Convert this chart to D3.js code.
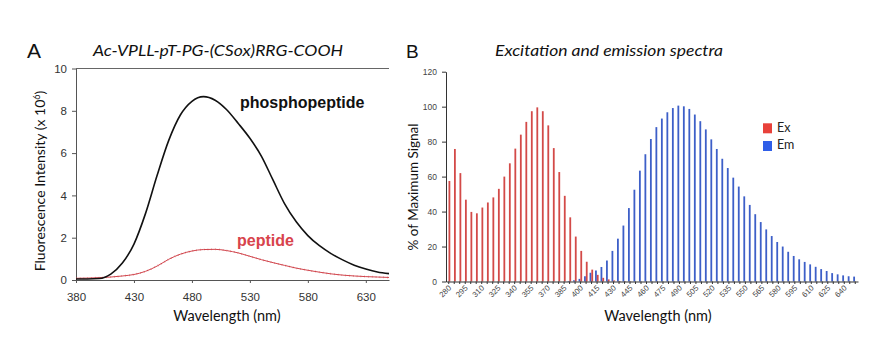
<!DOCTYPE html>
<html><head><meta charset="utf-8">
<script src="https://cdn.jsdelivr.net/npm/d3@7"></script>
<style>
html,body{margin:0;padding:0;background:#fff;}
svg{display:block;}
</style></head>
<body>
<svg id="chart" width="890" height="338"></svg>
<script>
// ---------- Panel A data ----------
const wavelengthsA = [380,390,400,410,420,430,440,450,460,470,480,490,500,510,520,530,540,550,560,570,580,590,600,610,620,630,640,650];
const phosphopeptide = [0.05,0.05,0.07,0.28,0.8,1.7,3.15,4.95,6.6,7.8,8.45,8.67,8.5,8.05,7.4,6.7,5.85,4.72,3.6,2.75,2.1,1.62,1.25,0.95,0.7,0.52,0.38,0.3];
const peptide = [0.08,0.09,0.11,0.14,0.19,0.26,0.41,0.66,0.98,1.22,1.37,1.44,1.45,1.39,1.28,1.12,0.96,0.82,0.69,0.56,0.46,0.37,0.29,0.23,0.19,0.16,0.14,0.12];
const xTicksA = [380,430,480,530,580,630];
const yTicksA = [0,2,4,6,8,10];

// ---------- Panel B data ----------
const categoriesB = [280,285,290,295,300,305,310,315,320,325,330,335,340,345,350,355,360,365,370,375,380,385,390,395,400,405,410,415,420,425,430,435,440,445,450,455,460,465,470,475,480,485,490,495,500,505,510,515,520,525,530,535,540,545,550,555,560,565,570,575,580,585,590,595,600,605,610,615,620,625,630,635,640,645,650];
const exValues = [57.5,75.8,62,46.8,39.8,39,42.3,45.2,48.1,53,60,67.6,76,84,91.3,97.4,99.6,97.4,89.3,76.3,62.6,49,36.7,25.7,17.5,11.3,6.8,3.8,2.1,1.2,0.6,0.3,0.2,0.1,
  0,0,0,0,0,0,0,0,0,0, 0,0,0,0,0,0,0,0,0,0, 0,0,0,0,0,0,0,0,0,0, 0,0,0,0,0,0,0,0,0,0, 0];
const emValues = [0,0,0,0,0,0,0,0,0,0, 0,0,0,0,0,0,0,0,0,0, 0,0,
  0.3,0.7,1.5,3,5,6.3,8.3,12,17.5,24.5,32,42,52.5,63.4,72.8,81.5,88.3,93.2,96.8,99.2,100.6,100.2,98.7,95.5,91.7,87,81.3,75.8,70.2,64.9,59.4,54.3,48.7,43.8,38.5,34,29.8,26,22.6,20,17,14.6,12.7,11.2,9.8,8.4,7.1,6,4.8,4.1,3.5,3,2.8];
const xTickLabelsB = [280,295,310,325,340,355,370,385,400,415,430,445,460,475,490,505,520,535,550,565,580,595,610,625,640];
const yTicksB = [0,20,40,60,80,100,120];
const seriesNames = ["Ex","Em"];

const svg = d3.select("#chart");
const FONT = "'Liberation Sans', Arial, sans-serif";
const FONT2 = "Lato, 'Open Sans', sans-serif";

// ================= Panel A =================
const xA = d3.scaleLinear().domain([380,650]).range([76,389]);
const yA = d3.scaleLinear().domain([0,10]).range([280,68.5]);
const gA = svg.append("g");

gA.append("text").attr("x",27).attr("y",58).text("A")
  .attr("font-family",FONT).attr("font-size",21).attr("fill","#111");
gA.append("text").attr("x",218).attr("y",56).text("Ac-VPLL-pT-PG-(CSox)RRG-COOH")
  .attr("text-anchor","middle").attr("font-family",FONT2).attr("font-style","italic")
  .attr("font-size",15.5).attr("fill","#111").attr("textLength",250).attr("lengthAdjust","spacingAndGlyphs");

// top frame line
gA.append("line").attr("x1",xA(380)).attr("x2",xA(650)).attr("y1",yA(10)).attr("y2",yA(10))
  .attr("stroke","#666").attr("stroke-width",1);

const axA = gA.append("g").attr("transform",`translate(0,${yA(0)})`)
  .call(d3.axisBottom(xA).tickValues(xTicksA).tickSize(3).tickSizeOuter(0));
const ayA = gA.append("g").attr("transform",`translate(${xA(380)},0)`)
  .call(d3.axisLeft(yA).tickValues(yTicksA).tickSize(4).tickSizeOuter(0));
[axA,ayA].forEach(a=>{
  a.selectAll("path,line").attr("stroke","#555");
  a.selectAll("text").attr("font-family",FONT).attr("font-size",11.5).attr("fill","#333");
});
axA.selectAll("text").attr("dy","1.3em");
ayA.selectAll("text").attr("dx","-2");

const lineA = (vals)=> d3.line().x((d,i)=>xA(wavelengthsA[i])).y(d=>yA(d)).curve(d3.curveMonotoneX)(vals);
gA.append("path").attr("d",lineA(peptide)).attr("fill","none").attr("stroke","#d2454c").attr("stroke-width",1);
gA.append("path").attr("d",lineA(peptide)).attr("fill","none").attr("stroke","#c9404a").attr("stroke-width",2)
  .attr("stroke-dasharray","0.6,3.2").attr("opacity",0.6);
gA.append("path").attr("d",lineA(phosphopeptide)).attr("fill","none").attr("stroke","#111").attr("stroke-width",1.6);

gA.append("text").attr("x",240).attr("y",108).text("phosphopeptide")
  .attr("font-family",FONT).attr("font-weight","bold").attr("font-size",16).attr("fill","#111");
gA.append("text").attr("x",237).attr("y",246).text("peptide")
  .attr("font-family",FONT).attr("font-weight","bold").attr("font-size",16).attr("fill","#d8434c");

gA.append("text").attr("x",227).attr("y",321).text("Wavelength (nm)")
  .attr("text-anchor","middle").attr("font-family",FONT2).attr("font-size",14.5).attr("fill","#111");
const ylabA = gA.append("text").attr("transform","translate(45,181) rotate(-90)")
  .attr("text-anchor","middle").attr("font-family",FONT2).attr("font-size",14).attr("fill","#111");
ylabA.append("tspan").text("Fluorescence Intensity (x 10");
ylabA.append("tspan").text("6").attr("font-size",9).attr("dy",-5);
ylabA.append("tspan").text(")").attr("dy",5);

// ================= Panel B =================
const xB = d3.scaleBand().domain(categoriesB).range([446,858]).padding(0);
const yB = d3.scaleLinear().domain([0,120]).range([281.5,71.7]);
const gB = svg.append("g");
const bw = xB.bandwidth();

gB.append("text").attr("x",406).attr("y",58).text("B")
  .attr("font-family",FONT).attr("font-size",19).attr("fill","#111");
gB.append("text").attr("x",609).attr("y",56).text("Excitation and emission spectra")
  .attr("text-anchor","middle").attr("font-family",FONT2).attr("font-style","italic")
  .attr("font-size",15).attr("fill","#111").attr("textLength",228).attr("lengthAdjust","spacingAndGlyphs");

const colors = {Ex:"#d34a48", Em:"#3d5fc8"};
const barW = 1.8;
gB.append("g").selectAll("rect.em").data(categoriesB).join("rect")
  .attr("x",c=>xB(c)+bw*0.13).attr("width",barW)
  .attr("y",(c,i)=>yB(emValues[i])).attr("height",(c,i)=>yB(0)-yB(emValues[i]))
  .attr("fill",colors.Em);
gB.append("g").selectAll("rect.ex").data(categoriesB).join("rect")
  .attr("x",c=>xB(c)+bw*0.455).attr("width",barW)
  .attr("y",(c,i)=>yB(exValues[i])).attr("height",(c,i)=>yB(0)-yB(exValues[i]))
  .attr("fill",colors.Ex);

// minor ticks at every category
gB.append("g").attr("transform",`translate(0,${yB(0)})`)
  .call(d3.axisBottom(xB).tickFormat("").tickSize(2.5).tickSizeOuter(0))
  .call(g=>{g.selectAll("line").attr("stroke","#333");g.select("path").attr("stroke","#333");});
const axB = gB.append("g").attr("transform",`translate(0,${yB(0)})`)
  .call(d3.axisBottom(xB).tickValues(xTickLabelsB).tickSize(0).tickSizeOuter(0));
axB.select("path").remove();
axB.selectAll("text").attr("font-family",FONT).attr("font-size",7.8).attr("fill","#444")
  .attr("text-anchor","end").attr("dy",0).attr("y",0)
  .attr("transform","translate(3,7) rotate(-45)");

const ayB = gB.append("g").attr("transform",`translate(446,0)`)
  .call(d3.axisLeft(yB).tickValues(yTicksB).tickSize(4).tickSizeOuter(0));
ayB.selectAll("path,line").attr("stroke","#333");
ayB.selectAll("text").attr("font-family",FONT).attr("font-size",8.5).attr("fill","#444").attr("dx","-2");

gB.append("text").attr("x",658).attr("y",321).text("Wavelength (nm)")
  .attr("text-anchor","middle").attr("font-family",FONT2).attr("font-size",14.5).attr("fill","#111");
gB.append("text").attr("transform","translate(418,187) rotate(-90)").text("% of Maximum Signal")
  .attr("text-anchor","middle").attr("font-family",FONT2).attr("font-size",13.5).attr("fill","#111");

// legend
const leg = gB.append("g");
seriesNames.forEach((s,i)=>{
  leg.append("rect").attr("x",763).attr("y",123.3+i*17.7).attr("width",9).attr("height",10).attr("fill",s==="Ex"?"#e8413a":"#2f5ee8");
  leg.append("text").attr("x",777).attr("y",128.5+i*17.7).attr("dominant-baseline","middle").text(s)
    .attr("font-family",FONT2).attr("font-size",12.5).attr("fill","#222");
});
</script>
</body></html>
